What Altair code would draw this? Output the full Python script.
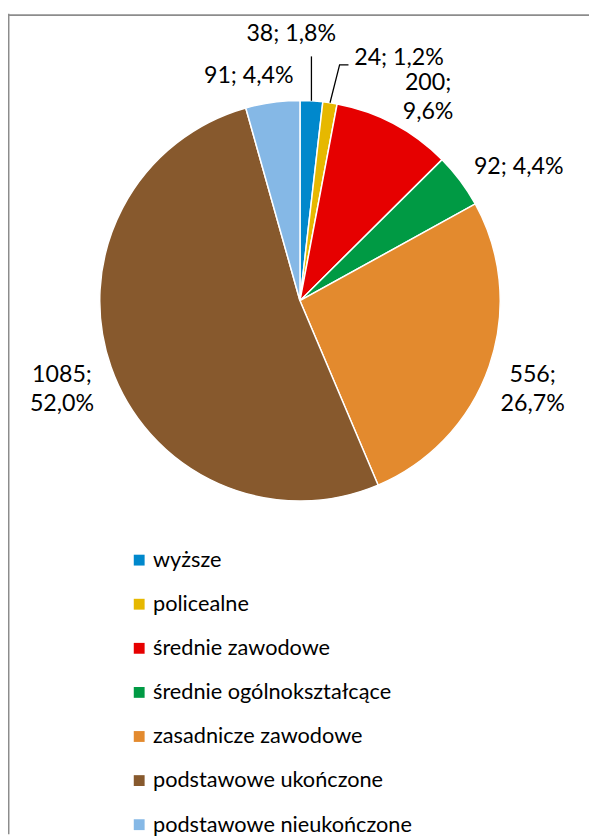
import altair as alt
import numpy as np
import pandas as pd

# ---- data ----
categories = ["wyższe", "policealne", "średnie zawodowe", "średnie ogólnokształcące",
              "zasadnicze zawodowe", "podstawowe ukończone", "podstawowe nieukończone"]
values = [38, 24, 200, 92, 556, 1085, 91]
colors = ["#0088CC", "#E6B800", "#E60000", "#009A44", "#E38A2E", "#87592D", "#85B8E6"]

# ---- layout (pixels / degrees) ----
W, H = 589, 832
CX, CY, R = 296, 291, 203
label_radius = [266, 262, 240, 258, 254, 259, 230]
label_nudge_deg = [-5.2, 13.9, 4.8, 6.1, 2.7, -2.0, -5.2]
label_two_lines = [False, False, True, False, True, True, False]
LINE_H = 30
leader_offsets = {0: [(0, -45)], 1: [(9.7, -38.3), (18.7, -38.3)]}
FONT = "Lato"

total = sum(values)
vals = np.array(values, dtype=float)
mid_deg = (np.cumsum(vals) - vals / 2) / total * 360.0

labels, lx, ly = [], [], []
for i, v in enumerate(values):
    pct = f"{v / total * 100:.1f}".replace(".", ",")
    labels.append(f"{v};\n{pct}%" if label_two_lines[i] else f"{v}; {pct}%")
    a = np.radians(mid_deg[i] + label_nudge_deg[i])
    n_lines = 2 if label_two_lines[i] else 1
    lx.append(CX + label_radius[i] * np.sin(a))
    ly.append(CY - label_radius[i] * np.cos(a) - (n_lines - 1) * LINE_H / 2)

df = pd.DataFrame({"category": categories, "value": values, "idx": range(len(values))})
lab_df = pd.DataFrame({"label": labels, "lx": lx, "ly": ly})

lead_rows = []
for i, offs in leader_offsets.items():
    a = np.radians(mid_deg[i])
    sx, sy = CX + R * np.sin(a), CY - R * np.cos(a)
    lead_rows.append({"id": i, "k": 0, "x": sx, "y": sy})
    for k, (dx, dy) in enumerate(offs, start=1):
        lead_rows.append({"id": i, "k": k, "x": sx + dx, "y": sy + dy})
lead_df = pd.DataFrame(lead_rows)

border = alt.Chart(pd.DataFrame({"a": [0]}))
left_border = border.mark_rule(color="#8c8c8c", strokeWidth=2).encode(
    x=alt.value(0.5), y=alt.value(0), y2=alt.value(H))
top_border = border.mark_rule(color="#8c8c8c", strokeWidth=2).encode(
    x=alt.value(0), x2=alt.value(W), y=alt.value(1.5))

pie = alt.Chart(df).mark_arc(outerRadius=R, stroke="white", strokeWidth=1.5).encode(
    theta=alt.Theta("value:Q", stack=True),
    color=alt.Color(
        "category:N",
        scale=alt.Scale(domain=categories, range=colors),
        sort=categories,
        legend=alt.Legend(
            title=None, orient="none", legendX=122, legendY=543,
            symbolType="square", symbolSize=121, symbolStrokeWidth=0,
            labelFont=FONT, labelFontSize=22, labelColor="black",
            rowPadding=22.7, labelOffset=3, labelLimit=0, padding=0,
            direction="vertical",
        ),
    ),
    order=alt.Order("idx:Q"),
    x=alt.value(CX),
    y=alt.value(CY),
)

leaders = alt.Chart(lead_df).mark_line(color="black", strokeWidth=1.3).encode(
    x=alt.X("x:Q", scale=None, axis=None),
    y=alt.Y("y:Q", scale=None, axis=None),
    detail="id:N",
    order="k:Q",
)

texts = alt.Chart(lab_df).mark_text(
    font=FONT, fontSize=23.5, color="black", align="center", baseline="middle",
    lineBreak="\n", lineHeight=LINE_H, dy=-4,
).encode(
    x=alt.X("lx:Q", scale=None, axis=None),
    y=alt.Y("ly:Q", scale=None, axis=None),
    text="label:N",
)

chart = alt.layer(left_border, top_border, pie, leaders, texts).properties(
    width=W, height=H, autosize=alt.AutoSizeParams(type="none"), padding=0,
    background="white",
).configure_view(stroke=None)

chart.save("out.html", embed_options={"renderer": "svg", "actions": False})
